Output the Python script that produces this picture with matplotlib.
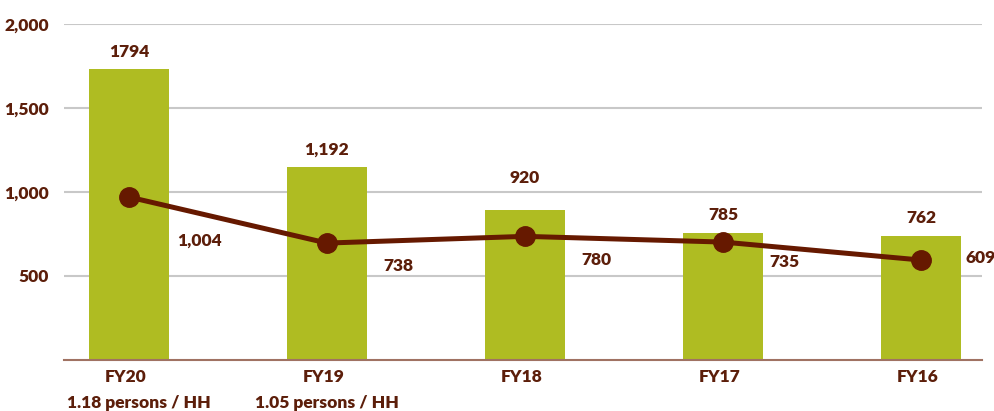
import matplotlib
matplotlib.use("Agg")
import matplotlib.pyplot as plt
import numpy as np

anos = ["FY20", "FY19", "FY18", "FY17", "FY16"]
pessoas = ["1.18 persons / HH", "1.05 persons / HH", "", "", ""]

# heights as drawn in the picture / labels as printed
barras = [1732, 1149, 893, 756, 738]
barras_rotulo = ["1794", "1,192", "920", "785", "762"]
linha = [970, 696, 736, 702, 595]
linha_rotulo = ["1,004", "738", "780", "735", "609"]

cor_barra = "#AFBC22"
cor_linha = "#661900"
cor_texto = "#5C1E0A"
peso = "heavy"

plt.rcParams["font.family"] = ["Lato", "DejaVu Sans"]
plt.rcParams["font.weight"] = peso

fig = plt.figure(figsize=(9.95, 4.11), dpi=100)
ax = fig.add_axes([64 / 995, 51 / 411, (982 - 64) / 995, (360 - 24) / 411])

x = np.arange(len(anos))
ax.bar(x, barras, width=0.404, color=cor_barra, zorder=2)
ax.plot(x, linha, color=cor_linha, linewidth=3.6, marker="o", markersize=14, zorder=3)

ax.set_xlim(-0.328, 4.308)
ax.set_ylim(0, 2000)
ax.set_yticks([500, 1000, 1500, 2000])
ax.set_yticklabels(["500", "1,000", "1,500", "2,000"])
ax.tick_params(axis="y", length=0, pad=11, labelsize=12.5, labelcolor=cor_texto)
ax.set_xticks([])
ax.grid(axis="y", color="#C8C8C8", linewidth=1.5, zorder=0)
for lado in ["top", "right", "left"]:
    ax.spines[lado].set_visible(False)
ax.spines["bottom"].set_color("#A07262")
ax.spines["bottom"].set_linewidth(1.5)
ax.spines["bottom"].set_zorder(4)

# offsets in pixels
desl_barra = [17, 17, 32, 18, 18]
desl_linha = [(71, -44), (71, -23), (71, -24), (61, -20), (60, 2)]

for i in range(len(anos)):
    ax.annotate(barras_rotulo[i], (x[i], barras[i]), xytext=(0, desl_barra[i]),
                textcoords="offset pixels", ha="center", va="center",
                fontsize=12.5, fontweight=peso, color=cor_texto)
    ax.annotate(linha_rotulo[i], (x[i], linha[i]), xytext=desl_linha[i],
                textcoords="offset pixels", ha="center", va="center",
                fontsize=12.5, fontweight=peso, color=cor_texto)
    ax.annotate(anos[i], (x[i], 0), xytext=(-3, -17), textcoords="offset pixels",
                ha="center", va="center", fontsize=12.5, fontweight=peso,
                color=cor_texto, annotation_clip=False)
    if pessoas[i]:
        ax.annotate(pessoas[i], (x[i], 0), xytext=(i == 0 and 10 or 0, -43),
                    textcoords="offset pixels", ha="center", va="center",
                    fontsize=12.5, fontweight=peso, color=cor_texto,
                    annotation_clip=False)

fig.savefig("out.png", dpi=100)
